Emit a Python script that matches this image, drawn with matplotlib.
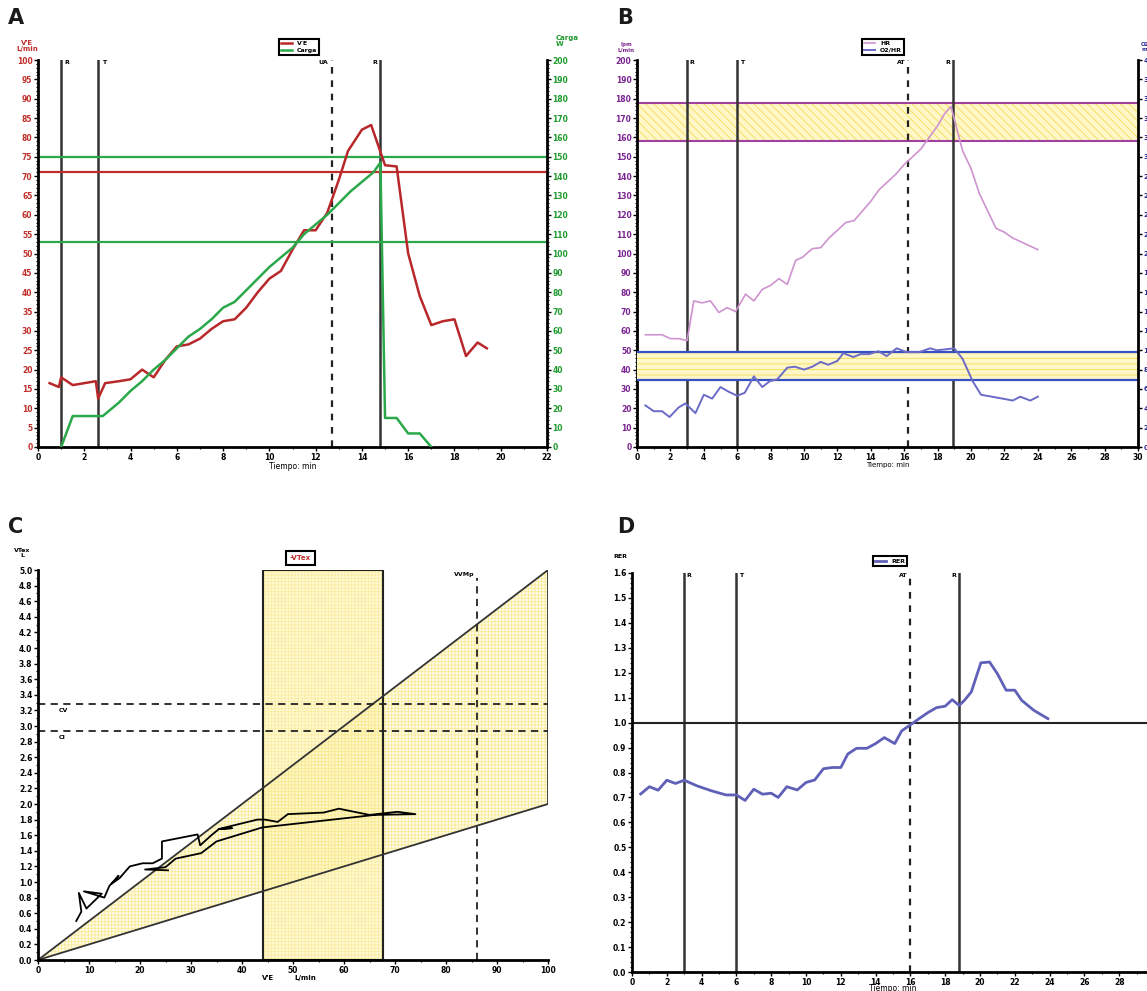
import numpy as np
import matplotlib.pyplot as plt
from matplotlib.ticker import MultipleLocator, FormatStrFormatter

plt.rcParams["font.family"] = "DejaVu Sans"
plt.rcParams["font.weight"] = "bold"
plt.rcParams["hatch.linewidth"] = 0.6

# -----------------------------------------------------------------------------
# Datos panel A (V'E y carga frente al tiempo)
# -----------------------------------------------------------------------------
ve_t = [0.5, 0.9, 1.0, 1.5, 2.0, 2.5, 2.6, 2.9, 3.5, 4.0, 4.5, 5.0, 5.5, 6.0,
        6.5, 7.0, 7.5, 8.0, 8.5, 9.0, 9.5, 10.0, 10.5, 11.0, 11.5, 12.0, 12.5,
        13.0, 13.4, 14.0, 14.4, 15.0, 15.5, 16.0, 16.5, 17.0, 17.5, 18.0, 18.5,
        19.0, 19.4]
ve = [16.5, 15.5, 18.0, 16.0, 16.5, 17.0, 12.5, 16.5, 17.0, 17.5, 20.0, 18.0,
      22.5, 26.0, 26.5, 28.0, 30.5, 32.5, 33.0, 36.0, 40.0, 43.5, 45.5, 51.0,
      56.0, 56.0, 60.5, 69.0, 76.5, 82.0, 83.2, 72.8, 72.5, 50.0, 39.0, 31.5,
      32.5, 33.0, 23.5, 27.0, 25.5]

carga_t = [1.0, 1.5, 2.0, 2.5, 2.8, 3.0, 3.5, 4.0, 4.5, 5.0, 5.5, 6.0, 6.5,
           7.0, 7.5, 8.0, 8.5, 9.0, 9.5, 10.0, 10.5, 11.0, 11.5, 12.0, 12.5,
           13.0, 13.5, 14.0, 14.5, 14.8, 15.0, 15.5, 16.0, 16.5, 17.0]
carga = [0, 16, 16, 16, 16, 18, 23, 29, 34, 40, 45, 51, 57, 61, 66, 72, 75,
         81, 87, 93, 98, 103, 110, 115, 120, 126, 132, 137, 142, 147, 15, 15,
         7, 7, 0]

# umbrales horizontales (escala V'E)
a_hlineas = [(75, "#2aa84a"), (71, "#c0302b"), (53, "#2aa84a")]
# marcas verticales: (tiempo, etiqueta, discontinua)
a_marcas = [(1.0, "R", False), (2.6, "T", False), (12.7, "UA", True), (14.8, "R", False)]

# -----------------------------------------------------------------------------
# Datos panel B (HR y O2/HR)
# -----------------------------------------------------------------------------
hr_t = [0.5, 1.0, 1.5, 2.0, 2.5, 3.0, 3.4, 3.9, 4.4, 4.9, 5.4, 5.9, 6.5,
        7.0, 7.5, 8.0, 8.5, 9.0, 9.5, 9.9, 10.5, 11.0, 11.5, 12.0, 12.5, 13.0,
        13.5, 14.0, 14.5, 15.0, 15.5, 16.0, 16.5, 17.0, 17.5, 18.0, 18.4, 18.8,
        19.1, 19.5, 20.0, 20.5, 21.0, 21.5, 22.0, 22.5, 23.0, 23.5, 24.0]
hr = [58, 58, 58, 56, 56, 55, 75.5, 74.5, 75.5, 69.5, 72, 70, 79, 75.5, 81.5,
      83.5, 87, 84, 96.5, 98, 102.5, 103, 108, 112, 116, 117, 122, 127, 133,
      137, 141, 146, 150, 154, 160, 166, 172, 176, 166, 153, 144, 131, 122,
      113, 111, 108, 106, 104, 102]

o2hr_t = [0.5, 1.0, 1.5, 1.95, 2.5, 2.9, 3.5, 4.0, 4.5, 5.0, 5.5, 6.0, 6.45,
          7.0, 7.5, 7.95, 8.4, 9.0, 9.45, 10.0, 10.5, 11.0, 11.45, 12.0, 12.35,
          12.95, 13.4, 13.9, 14.45, 14.95, 15.55, 16.15, 16.9, 17.55, 17.95,
          18.5, 19.0, 19.5, 20.1, 20.6, 21.25, 21.9, 22.5, 22.95, 23.55, 24.0]
o2hr = [4.3, 3.7, 3.7, 3.1, 4.1, 4.5, 3.5, 5.4, 5.0, 6.2, 5.7, 5.3, 5.6, 7.3,
        6.2, 6.8, 7.0, 8.2, 8.3, 8.0, 8.3, 8.8, 8.5, 8.9, 9.7, 9.3, 9.6, 9.6,
        9.9, 9.4, 10.2, 9.8, 9.8, 10.2, 10.0, 10.1, 10.2, 9.1, 6.8, 5.4, 5.2,
        5.0, 4.8, 5.2, 4.8, 5.2]

hr_banda = (158, 178)
o2hr_banda = (6.9, 9.8)
b_marcas = [(3.0, "R", False), (6.0, "T", False), (16.2, "AT", True), (18.9, "R", False)]

# -----------------------------------------------------------------------------
# Datos panel C (VTex frente a V'E)
# -----------------------------------------------------------------------------
vtex_x = [7.5, 8.5, 8.0, 9.5, 12.5, 9.0, 13.0, 14.0, 15.8, 14.5, 16.0, 18.0,
          20.5, 22.5, 24.3, 24.3, 31.3, 31.8, 34.0, 35.5, 38.0, 35.5, 43.0,
          44.5, 47.0, 49.0, 56.0, 59.0, 65.0, 70.5, 74.0, 66.0, 44.0, 35.0,
          32.0, 27.0, 25.0, 21.0, 25.5]
vtex_y = [0.50, 0.62, 0.86, 0.66, 0.85, 0.88, 0.80, 0.95, 1.08, 0.98, 1.05,
          1.20, 1.24, 1.24, 1.30, 1.52, 1.61, 1.47, 1.60, 1.68, 1.69, 1.68,
          1.80, 1.80, 1.77, 1.87, 1.89, 1.94, 1.86, 1.90, 1.87, 1.86, 1.70,
          1.52, 1.37, 1.30, 1.19, 1.16, 1.15]

cono_x = [0, 100]
cono_sup = [0, 5.0]
cono_inf = [0, 2.0]
zona_ve = (44.2, 67.6)
cv, ci, vvmp = 3.28, 2.93, 86.0

# -----------------------------------------------------------------------------
# Datos panel D (RER)
# -----------------------------------------------------------------------------
rer_t = [0.5, 1.0, 1.5, 2.0, 2.5, 3.0, 3.75, 4.55, 5.4, 6.0, 6.5, 7.0, 7.5,
         8.0, 8.4, 8.9, 9.5, 10.0, 10.5, 11.0, 11.5, 12.0, 12.4, 12.9, 13.5,
         14.0, 14.5, 15.1, 15.5, 16.1, 16.5, 17.0, 17.5, 18.0, 18.4, 18.8,
         19.1, 19.5, 20.05, 20.55, 21.0, 21.5, 22.0, 22.4, 23.1, 23.9]
rer = [0.714, 0.743, 0.729, 0.769, 0.756, 0.769, 0.746, 0.727, 0.71, 0.71,
       0.688, 0.733, 0.713, 0.717, 0.70, 0.743, 0.73, 0.76, 0.77, 0.815, 0.82,
       0.82, 0.874, 0.897, 0.897, 0.916, 0.94, 0.916, 0.967, 0.996, 1.016,
       1.04, 1.06, 1.066, 1.092, 1.069, 1.089, 1.123, 1.24, 1.243, 1.196,
       1.13, 1.13, 1.089, 1.049, 1.016]
d_marcas = [(3.0, "R", False), (6.0, "T", False), (16.0, "AT", True), (18.8, "R", False)]

# -----------------------------------------------------------------------------
# Figura
# -----------------------------------------------------------------------------
W, H = 1147, 991
fig = plt.figure(figsize=(W / 100, H / 100), dpi=100)


def ejes_px(x0, y0, x1, y1):
    return fig.add_axes([x0 / W, 1 - y1 / H, (x1 - x0) / W, (y1 - y0) / H])


def estilo(ax, color_y="black"):
    ax.spines["top"].set_visible(False)
    ax.spines["right"].set_visible(False)
    ax.spines["left"].set_linewidth(2)
    ax.spines["bottom"].set_linewidth(2)
    ax.tick_params(which="major", direction="out", length=3, width=1,
                   labelsize=5.5, pad=1)
    ax.tick_params(which="minor", direction="out", length=1.5, width=0.8)
    ax.tick_params(axis="y", labelcolor=color_y)


def marcas(ax, lista, ymax):
    for x, txt, disc in lista:
        if disc:
            ax.axvline(x, color="#222222", lw=1.6, ls=(0, (3, 3)))
            ax.text(x - 0.15, ymax, txt, fontsize=4.5, ha="right", va="top")
        else:
            ax.axvline(x, color="#333333", lw=1.8)
            if txt == "R" and x > 10:
                ax.text(x - 0.15, ymax, txt, fontsize=4.5, ha="right", va="top")
            else:
                ax.text(x + 0.15, ymax, txt, fontsize=4.5, ha="left", va="top")


def leyenda(ax, handles, cx, cy):
    lg = ax.legend(handles=handles, loc="center",
                   bbox_to_anchor=(cx / W, 1 - cy / H),
                   bbox_transform=fig.transFigure, fontsize=4.5,
                   fancybox=False, edgecolor="black", handlelength=1.8,
                   borderpad=0.3, labelspacing=0.2, framealpha=1)
    lg.get_frame().set_linewidth(1.5)


amarillo = "#fff7c8"
amarillo_h = "#f3dc55"
amarillo_c = "#f6e47e"

# ---------------- Panel A ----------------
axA = ejes_px(38, 60, 547, 447)
estilo(axA, "#c0302b")
axA.set_xlim(0, 22)
axA.set_ylim(0, 100)
axA.xaxis.set_major_locator(MultipleLocator(2))
axA.xaxis.set_minor_locator(MultipleLocator(1))
axA.yaxis.set_major_locator(MultipleLocator(5))
axA.yaxis.set_minor_locator(MultipleLocator(1))
marcas(axA, a_marcas, 100)
for yv, c in a_hlineas:
    axA.axhline(yv, color=c, lw=1.6)
l_ve, = axA.plot(ve_t, ve, color="#b8282a", lw=1.8, label="V'E")

axA2 = axA.twinx()
axA2.set_ylim(0, 200)
for s in ["top", "left", "bottom"]:
    axA2.spines[s].set_visible(False)
axA2.spines["right"].set_linewidth(2)
axA2.yaxis.set_major_locator(MultipleLocator(10))
axA2.yaxis.set_minor_locator(MultipleLocator(2))
axA2.tick_params(which="major", direction="out", length=3, width=1,
                 labelsize=5.5, pad=1, labelcolor="#1f9a2e")
axA2.tick_params(which="minor", direction="out", length=1.5, width=0.8)
l_cg, = axA2.plot(carga_t, carga, color="#2aa84a", lw=1.8, label="Carga")
axA.set_xlabel("Tiempo: min", fontsize=5.5, labelpad=0)
fig.text(27 / W, 1 - 46 / H, "V'E\nL/min", fontsize=5, color="#c0302b",
         ha="center", va="center", linespacing=1.1)
fig.text(556 / W, 1 - 41 / H, "Carga\nW", fontsize=5, color="#1f9a2e",
         ha="left", va="center", linespacing=1.1)
leyenda(axA2, [l_ve, l_cg], 299, 47)

# ---------------- Panel B ----------------
axB = ejes_px(637, 60, 1138, 447)
estilo(axB, "#7a2590")
axB.set_xlim(0, 30)
axB.set_ylim(0, 200)
axB.xaxis.set_major_locator(MultipleLocator(2))
axB.xaxis.set_minor_locator(MultipleLocator(1))
axB.yaxis.set_major_locator(MultipleLocator(10))
axB.yaxis.set_minor_locator(MultipleLocator(2))
axB.axhspan(*hr_banda, facecolor=amarillo, edgecolor=amarillo_h,
            hatch="\\\\\\\\", lw=0)
for yv in hr_banda:
    axB.axhline(yv, color="#a040a0", lw=1.5)
marcas(axB, b_marcas, 200)
l_hr, = axB.plot(hr_t, hr, color="#cf93cf", lw=1.2, label="HR")

axB2 = axB.twinx()
axB2.set_ylim(0, 40)
for s in ["top", "left", "bottom"]:
    axB2.spines[s].set_visible(False)
axB2.spines["right"].set_linewidth(2)
axB2.yaxis.set_major_locator(MultipleLocator(2))
axB2.tick_params(which="major", direction="out", length=3, width=1,
                 labelsize=5, pad=1, labelcolor="#2a2a9a")
axB2.axhspan(*o2hr_banda, facecolor=amarillo, edgecolor=amarillo_h,
             hatch="---", lw=0)
for yv in o2hr_banda:
    axB2.axhline(yv, color="#3550c0", lw=1.6)
l_o2, = axB2.plot(o2hr_t, o2hr, color="#6b6bc8", lw=1.4, label="O2/HR")
axB.set_xlabel("Tiempo: min", fontsize=5, labelpad=0)
fig.text(626 / W, 1 - 47 / H, "lpm\nL/min", fontsize=4, color="#7a2590",
         ha="center", va="center", linespacing=1.1)
fig.text(1141 / W, 1 - 47 / H, "O2/HR\nml", fontsize=4, color="#2a2a9a",
         ha="left", va="center", linespacing=1.1)
leyenda(axB2, [l_hr, l_o2], 883, 47)

# ---------------- Panel C ----------------
axC = ejes_px(38, 570, 548, 960)
estilo(axC)
axC.set_xlim(0, 100)
axC.set_ylim(0, 5.0)
axC.xaxis.set_major_locator(MultipleLocator(10))
axC.xaxis.set_minor_locator(MultipleLocator(5))
axC.yaxis.set_major_locator(MultipleLocator(0.2))
axC.yaxis.set_minor_locator(MultipleLocator(0.1))
axC.yaxis.set_major_formatter(FormatStrFormatter("%.1f"))
axC.fill_between(cono_x, cono_inf, cono_sup, facecolor="#fffbe0",
                 edgecolor=amarillo_c, hatch="+++++", lw=0, alpha=0.75)
axC.axvspan(*zona_ve, facecolor="#fff6b8", edgecolor=amarillo_c,
            hatch="+++++", lw=0, alpha=0.6)
axC.axvspan(*zona_ve, fill=False, edgecolor="#222222", lw=1.5)
axC.plot(cono_x, cono_sup, color="#333333", lw=1.3)
axC.plot(cono_x, cono_inf, color="#333333", lw=1.3)
axC.plot([cono_x[1], cono_x[1]], [cono_inf[1], cono_sup[1]], color="#333333", lw=1.3)
axC.axhline(cv, xmax=1.0, color="#222222", lw=1.3, ls=(0, (4, 3)))
axC.axhline(ci, xmax=1.0, color="#222222", lw=1.3, ls=(0, (4, 3)))
axC.axvline(vvmp, ymax=0.98, color="#222222", lw=1.3, ls=(0, (4, 3)))
axC.text(4, cv - 0.05, "CV", fontsize=4.5, va="top")
axC.text(4, ci - 0.05, "CI", fontsize=4.5, va="top")
axC.text(vvmp - 0.5, 4.97, "VVMp", fontsize=4.5, ha="right", va="top")
axC.plot(vtex_x, vtex_y, color="black", lw=1.3)
axC.text(51.5, 5.15, "-VTex", fontsize=5, color="#c0302b", ha="center",
         va="center", clip_on=False,
         bbox=dict(boxstyle="square,pad=0.6", fc="white", ec="black", lw=1.5))
fig.text(268 / W, 1 - 978 / H, "V'E", fontsize=5, ha="center", va="center")
fig.text(305 / W, 1 - 978 / H, "L/min", fontsize=5, ha="center", va="center")
fig.text(22 / W, 1 - 553 / H, "VTex\nL", fontsize=4.5, ha="center",
         va="center", linespacing=1.1)

# ---------------- Panel D ----------------
axD = ejes_px(632, 573, 1154, 972)
estilo(axD)
axD.set_xlim(0, 30)
axD.set_ylim(0, 1.6)
axD.xaxis.set_major_locator(MultipleLocator(2))
axD.xaxis.set_minor_locator(MultipleLocator(1))
axD.yaxis.set_major_locator(MultipleLocator(0.1))
axD.yaxis.set_minor_locator(MultipleLocator(0.02))
axD.yaxis.set_major_formatter(FormatStrFormatter("%.1f"))
marcas(axD, d_marcas, 1.6)
axD.axhline(1.0, color="#222222", lw=1.5)
l_rer, = axD.plot(rer_t, rer, color="#6060b8", lw=2.0, label="RER")
axD.set_xlabel("Tiempo: min", fontsize=5.5, labelpad=-1.5)
fig.text(620 / W, 1 - 556 / H, "RER", fontsize=4.5, ha="center", va="center")
leyenda(axD, [l_rer], 890, 561)

# letras de panel
for txt, x, y in [("A", 8, 18), ("B", 617, 18), ("C", 8, 527), ("D", 617, 527)]:
    fig.text(x / W, 1 - y / H, txt, fontsize=15, fontweight="bold",
             ha="left", va="center", color="#1a1a1a")

fig.savefig("out.png", dpi=100)
